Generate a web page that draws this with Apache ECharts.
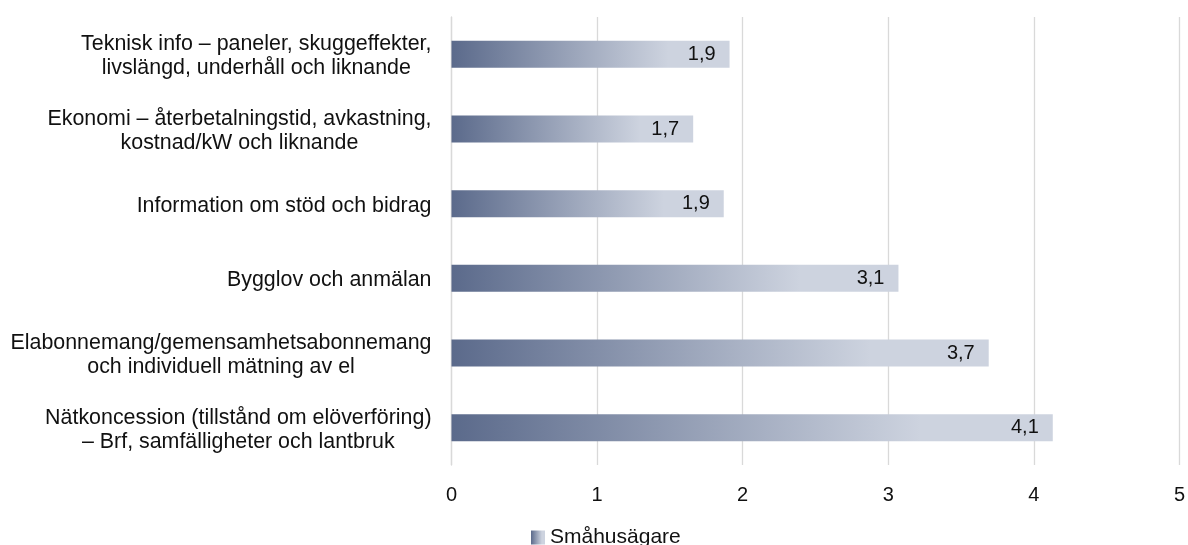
<!DOCTYPE html>
<html>
<head>
<meta charset="utf-8">
<script src="https://cdn.jsdelivr.net/npm/echarts@6/dist/echarts.min.js"></script>
<style>
html,body{margin:0;padding:0;background:#fff;}
#chart{width:1188px;height:545px;}
</style>
</head>
<body>
<div id="chart"></div>
<script>
const categories = [
  "Teknisk info – paneler, skuggeffekter,\nlivslängd, underhåll och liknande",
  "Ekonomi – återbetalningstid, avkastning,\nkostnad/kW och liknande",
  "Information om stöd och bidrag",
  "Bygglov och anmälan",
  "Elabonnemang/gemensamhetsabonnemang\noch individuell mätning av el",
  "Nätkoncession (tillstånd om elöverföring)\n– Brf, samfälligheter och lantbruk"
];
const seriesName = "Småhusägare";
const values = [1.91, 1.66, 1.87, 3.07, 3.69, 4.13];
const xTicks = [0, 1, 2, 3, 4, 5];

const FONT = "'Liberation Sans', Arial, sans-serif";
const chart = echarts.init(document.getElementById('chart'), null, {renderer: 'canvas'});

const barGradient = new echarts.graphic.LinearGradient(0, 0, 1, 0, [
  {offset: 0, color: '#5b6a8b'},
  {offset: 0.78, color: '#cdd3df'},
  {offset: 1, color: '#cdd3df'}
]);

chart.setOption({
  animation: false,
  backgroundColor: '#ffffff',
  textStyle: {fontFamily: FONT},
  grid: {left: 451.5, right: 6.5, top: 17, bottom: 80, containLabel: false},
  legend: {
    data: [seriesName],
    left: 531,
    top: 527,
    padding: 0,
    itemWidth: 14,
    itemHeight: 14,
    icon: 'rect',
    textStyle: {fontFamily: FONT, fontSize: 21, color: '#111'}
  },
  xAxis: {
    type: 'value',
    min: xTicks[0],
    max: xTicks[xTicks.length - 1],
    interval: 1,
    axisLine: {show: false},
    axisTick: {show: false},
    splitLine: {show: true, lineStyle: {color: '#d9d9d9', width: 1.3}},
    axisLabel: {fontFamily: FONT, fontSize: 20, color: '#111', margin: 20,
      formatter: v => String(v).replace('.', ',')}
  },
  yAxis: {
    type: 'category',
    inverse: true,
    data: categories,
    axisLine: {show: true, lineStyle: {color: '#d9d9d9', width: 1.3}},
    axisTick: {show: false},
    axisLabel: {
      margin: 20,
      align: 'right',
      lineHeight: 24,
      padding: [4, 0, 0, 0],
      formatter: v => v.split('\n').map(l => '{c|' + l + '}').join('\n'),
      rich: {c: {align: 'center', fontFamily: FONT, fontSize: 21.4, color: '#111', lineHeight: 24}}
    }
  },
  series: [{
    name: seriesName,
    type: 'bar',
    data: values,
    barWidth: 27,
    itemStyle: {color: barGradient},
    label: {
      show: true,
      position: 'insideRight',
      distance: 14,
      fontFamily: FONT,
      fontSize: 20,
      color: '#111',
      formatter: p => p.value.toFixed(1).replace('.', ',')
    }
  }]
});
</script>
</body>
</html>
